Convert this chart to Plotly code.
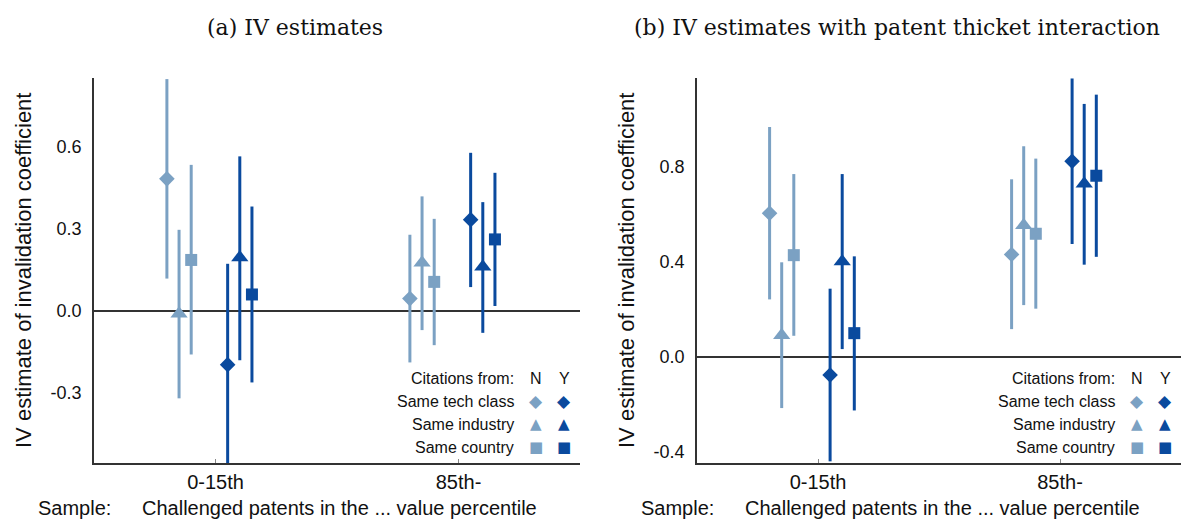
import plotly.graph_objects as go

# ---------------- data ----------------
categories = ["0-15th", "85th-"]
series = ["Same tech class", "Same industry", "Same country"]

# Panel (a): IV estimates
a_N_point = [[0.482, 0.045], [-0.010, 0.176], [0.186, 0.106]]
a_N_lo = [[0.118, -0.188], [-0.319, -0.070], [-0.159, -0.125]]
a_N_hi = [[0.846, 0.278], [0.296, 0.418], [0.533, 0.336]]
a_Y_point = [[-0.196, 0.333], [0.195, 0.161], [0.060, 0.261]]
a_Y_lo = [[-0.564, 0.087], [-0.180, -0.080], [-0.261, 0.018]]
a_Y_hi = [[0.172, 0.577], [0.564, 0.397], [0.381, 0.504]]

# Panel (b): IV estimates with patent thicket interaction
b_N_point = [[0.603, 0.430], [0.090, 0.553], [0.427, 0.517]]
b_N_lo = [[0.241, 0.116], [-0.216, 0.217], [0.088, 0.202]]
b_N_hi = [[0.966, 0.746], [0.397, 0.885], [0.768, 0.833]]
b_Y_point = [[-0.077, 0.822], [0.400, 0.727], [0.099, 0.761]]
b_Y_lo = [[-0.440, 0.474], [0.032, 0.387], [-0.226, 0.420]]
b_Y_hi = [[0.286, 1.170], [0.768, 1.063], [0.422, 1.102]]

a_yticks = [-0.3, 0.0, 0.3, 0.6]
a_yticklabels = ["-0.3", "0.0", "0.3", "0.6"]
b_yticks = [-0.4, 0.0, 0.4, 0.8]
b_yticklabels = ["-0.4", "0.0", "0.4", "0.8"]

# ---------------- styling ----------------
W, H = 1181, 527
LIGHT = "#7ba1c3"
DARK = "#0a4a9e"
AXC = "#333333"
TXT = "#111111"
SANS = "Liberation Sans, Arial, sans-serif"
SERIF = "DejaVu Serif, serif"
symbols = ["diamond", "triangle-up", "square"]
msizes = [12, 15, 12]
offsets_N = [-0.20, -0.15, -0.10]
offsets_Y = [0.05, 0.10, 0.15]

panels = [
    dict(x0=94, x1=580, yr=[-0.555, 0.85], ticks=a_yticks, labels=a_yticklabels,
         title="(a) IV estimates", title_x=295,
         data=(a_N_point, a_N_lo, a_N_hi, a_Y_point, a_Y_lo, a_Y_hi)),
    dict(x0=697, x1=1181, yr=[-0.447, 1.172], ticks=b_yticks, labels=b_yticklabels,
         title="(b) IV estimates with patent thicket interaction", title_x=897,
         data=(b_N_point, b_N_lo, b_N_hi, b_Y_point, b_Y_lo, b_Y_hi)),
]
top_px, bot_px = 78, 463


def px(x):
    return x / W


def py(y):
    return 1 - y / H


fig = go.Figure()
annotations = []

for i, p in enumerate(panels):
    xa = "x" if i == 0 else "x2"
    ya = "y" if i == 0 else "y2"
    Np, Nl, Nh, Yp, Yl, Yh = p["data"]
    for group, pts, lo, hi, offs, col in [
        ("N", Np, Nl, Nh, offsets_N, LIGHT),
        ("Y", Yp, Yl, Yh, offsets_Y, DARK),
    ]:
        for s in range(3):
            xs = [c + 1 + offs[s] for c in range(len(categories))]
            fig.add_trace(go.Scatter(
                x=xs, y=pts[s], xaxis=xa, yaxis=ya, mode="markers",
                name=f"{series[s]} ({group})", showlegend=False,
                marker=dict(symbol=symbols[s], size=msizes[s], color=col,
                            line=dict(width=0)),
                error_y=dict(type="data", symmetric=False,
                             array=[h - v for h, v in zip(hi[s], pts[s])],
                             arrayminus=[v - l for v, l in zip(pts[s], lo[s])],
                             width=0, thickness=3, color=col),
                cliponaxis=True,
            ))

    axkw = dict(showgrid=False, showline=True, linecolor=AXC, linewidth=1.5)
    fig.layout[("xaxis" if i == 0 else "xaxis2")] = dict(
        domain=[px(p["x0"]), px(p["x1"])], range=[0.5, 2.5], anchor=ya,
        tickvals=[1, 2], ticktext=categories, ticks="inside", ticklen=4,
        tickcolor="#888888", tickwidth=1, zeroline=False, ticklabelstandoff=0,
        tickfont=dict(family=SANS, size=20, color=TXT), **axkw)
    fig.layout[("yaxis" if i == 0 else "yaxis2")] = dict(
        domain=[py(bot_px), py(top_px)], range=p["yr"], anchor=xa,
        tickvals=p["ticks"], ticktext=p["labels"], ticks="",
        zeroline=True, zerolinecolor=AXC, zerolinewidth=1.5, ticklabelstandoff=7,
        tickfont=dict(family=SANS, size=18, color=TXT), **axkw)

    # panel title
    annotations.append(dict(text=p["title"], x=px(p["title_x"]), y=py(27),
                            xref="paper", yref="paper", showarrow=False,
                            xanchor="center", yanchor="middle",
                            font=dict(family=SERIF, size=22, color=TXT)))
    # y-axis title
    annotations.append(dict(text="IV estimate of invalidation coefficient",
                            x=px(p["x0"] - 71), y=py(271), xref="paper", yref="paper",
                            showarrow=False, textangle=-90, xanchor="center",
                            yanchor="middle",
                            font=dict(family=SANS, size=22, color=TXT)))
    # sample line
    annotations.append(dict(text="Sample:", x=px(p["x0"] - 58), y=py(508),
                            xref="paper", yref="paper", showarrow=False,
                            xanchor="left", yanchor="middle",
                            font=dict(family=SANS, size=20, color=TXT)))
    annotations.append(dict(text="Challenged patents in the ... value percentile",
                            x=px(p["x0"] + 46), y=py(508), xref="paper", yref="paper",
                            showarrow=False, xanchor="left", yanchor="middle",
                            font=dict(family=SANS, size=20, color=TXT)))
    # custom legend
    tx = p["x1"] - 64
    nx = p["x1"] - 44
    yx = p["x1"] - 16
    annotations.append(dict(text="Citations from:", x=px(tx), y=py(378),
                            xref="paper", yref="paper", showarrow=False,
                            xanchor="right", yanchor="middle",
                            font=dict(family=SANS, size=16, color=TXT)))
    for lab, xx in [("N", nx), ("Y", yx)]:
        annotations.append(dict(text=lab, x=px(xx), y=py(378), xref="paper",
                                yref="paper", showarrow=False, xanchor="center",
                                yanchor="middle",
                                font=dict(family=SANS, size=16, color=TXT)))
    glyphs = ["\u25c6", "\u25b2", "\u25a0"]
    gsizes = [17, 15, 15]
    for s, yy in enumerate([401, 424, 447]):
        annotations.append(dict(text=series[s], x=px(tx), y=py(yy), xref="paper",
                                yref="paper", showarrow=False, xanchor="right",
                                yanchor="middle",
                                font=dict(family=SANS, size=16, color=TXT)))
        for col, xx in [(LIGHT, nx), (DARK, yx)]:
            annotations.append(dict(text=glyphs[s], x=px(xx), y=py(yy), xref="paper",
                                    yref="paper", showarrow=False, xanchor="center",
                                    yanchor="middle",
                                    font=dict(family="DejaVu Sans", size=gsizes[s],
                                              color=col)))

fig.update_layout(
    width=W, height=H, margin=dict(l=0, r=0, t=0, b=0),
    paper_bgcolor="white", plot_bgcolor="white",
    annotations=annotations, showlegend=False,
)

fig.write_html(
    "out.html",
    config={"displayModeBar": False},
    post_script="document.body.style.margin='0px';document.body.style.padding='0px';"
                "document.documentElement.style.overflow='hidden';",
)
